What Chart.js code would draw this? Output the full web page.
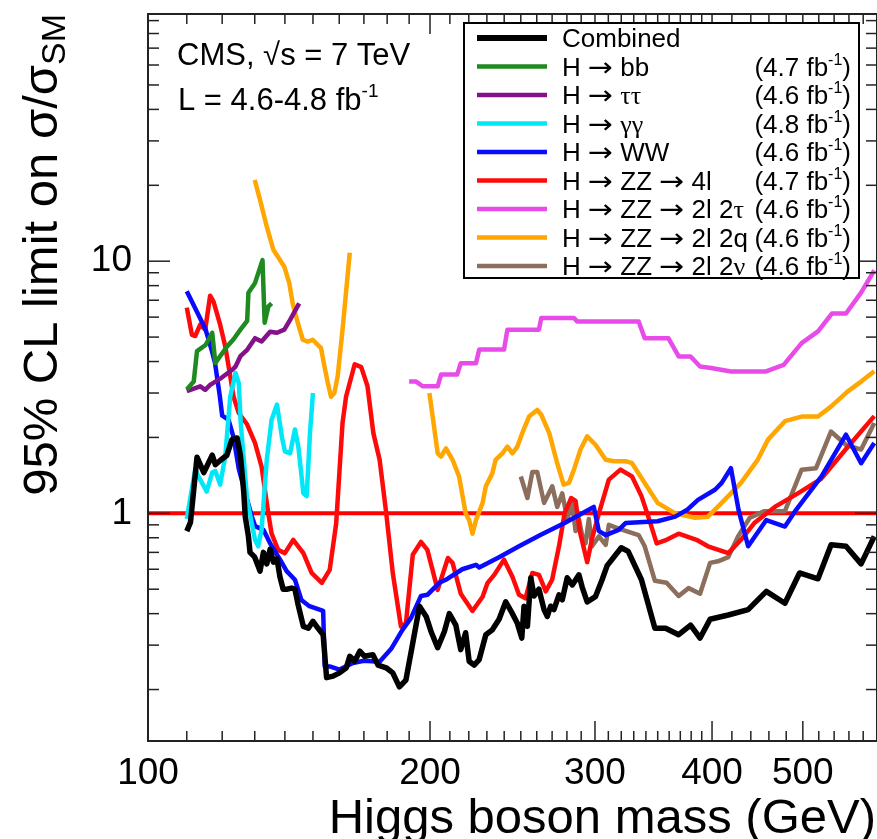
<!DOCTYPE html>
<html>
<head>
<meta charset="utf-8">
<script src="https://cdn.jsdelivr.net/npm/chart.js@4.4.1/dist/chart.umd.min.js"></script>
<style>
  html, body { margin: 0; padding: 0; background: #fff; }
  canvas { display: block; }
</style>
</head>
<body>
<canvas id="limits" width="877" height="839"></canvas>
<script>

/*----------------------- values -----------------------*/

// Higgs mass (GeV) and 95% CL limit on sigma/sigma_SM for every channel

const combinedMass = [110, 111, 112.8, 114.7, 117.1, 118, 119.4, 121.4, 122.9, 124.5, 125.5, 126.5, 127, 128, 128.5,
  130, 131.7, 132.8, 133.9, 135, 136.1, 137.3, 138.3, 139.4, 140.6, 142.3, 143.5, 144.7, 146.5, 148.3, 150, 151.9,
  153.8, 155.1, 157.6, 160.1, 162.8, 164.2, 166.2, 168.3, 170.3, 173.8, 176, 179.6, 182.5, 185.5, 188.5, 191.7,
  194.9, 198.1, 200.5, 203.8, 207.2, 209.7, 213.1, 215.7, 218.3, 220.2, 222.9, 225.7, 229.4, 233.1, 237, 240.9,
  244.9, 247.9, 250.6, 252, 254.1, 256.2, 258.3, 261.4, 264.7, 266.8, 269, 271.2, 274.6, 276.8, 280.2, 283.7,
  288.4, 290.7, 294.3, 300.3, 305.3, 309.1, 320, 325.5, 336.3, 347.6, 356.9, 368.5, 379.5, 388.4, 398.1, 416.3,
  437.1, 457.1, 478.5, 496, 519, 536, 556, 577, 596];
const combinedLimit = [0.85, 0.92, 1.67, 1.45, 1.70, 1.56, 1.62, 1.70, 1.96, 1.99, 1.70, 1.23, 0.97, 0.81, 0.70,
  0.67, 0.59, 0.70, 0.63, 0.72, 0.64, 0.66, 0.56, 0.50, 0.50, 0.505, 0.50, 0.43, 0.356, 0.35, 0.373, 0.35,
  0.33, 0.223, 0.226, 0.233, 0.244, 0.271, 0.259, 0.284, 0.271, 0.275, 0.25, 0.244, 0.233, 0.205, 0.218, 0.306,
  0.428, 0.39, 0.34, 0.293, 0.34, 0.40, 0.36, 0.288, 0.336, 0.259, 0.25, 0.263, 0.33, 0.345, 0.38, 0.446,
  0.40, 0.366, 0.32, 0.428, 0.356, 0.555, 0.47, 0.50, 0.415, 0.39, 0.428, 0.415, 0.475, 0.454, 0.555, 0.52,
  0.57, 0.51, 0.445, 0.467, 0.545, 0.62, 0.73, 0.706, 0.545, 0.35, 0.35, 0.33, 0.36, 0.32, 0.38, 0.395,
  0.415, 0.49, 0.44, 0.58, 0.55, 0.75, 0.74, 0.63, 0.81];

const bbMass  = [110, 111.9, 112.8, 115.2, 117.1, 118, 121.4, 123.4, 125.5, 127.6, 128, 130.1, 132.5, 133.2, 134.4, 135.5];
const bbLimit = [3.1, 3.33, 4.4, 4.65, 5.2, 3.95, 4.58, 4.9, 5.35, 5.8, 7.5, 8.2, 10.1, 5.7, 6.6, 6.8];

const tautauMass  = [110, 113.7, 115.1, 116.5, 119.7, 122.9, 124, 125.5, 127.6, 130.1, 132.2, 135, 137.3, 139.8, 141.8, 145];
const tautauLimit = [3.05, 3.19, 3.09, 3.23, 3.44, 3.7, 3.82, 4.2, 4.45, 4.95, 4.8, 5.25, 5.2, 5.35, 5.85, 6.8];

const gamgamMass  = [110, 112.3, 113.7, 115.5, 117.1, 118, 119.4, 120.9, 122.4, 124, 125, 125.6, 127.6, 130.1, 131.1,
  132.2, 133.9, 135.5, 137.3, 139, 140, 141.8, 143.5, 144.7, 146.5, 147.7, 148.9, 150];
const gamgamLimit = [0.95, 1.49, 1.36, 1.22, 1.45, 1.47, 1.3, 1.68, 2.9, 3.6, 3.28, 2.28, 1.13, 0.785, 0.74,
  0.86, 1.63, 2.35, 2.7, 2.0, 1.76, 1.73, 2.15, 1.84, 1.2, 1.17, 2.08, 3.0];

const wwMass  = [110, 115.2, 117, 117.9, 119.3, 120, 121.9, 123.4, 125, 127.6, 129.1, 130.1, 132.8, 135, 138.3, 140.6,
  143.5, 145.8, 148.7, 153.8, 154.4, 156.3, 160.1, 165.5, 170, 176.7, 181.8, 186.9, 190.9, 195.6, 198.7, 204.6,
  207.9, 216.5, 223.9, 225.7, 237, 248.9, 262.3, 278.4, 299.1, 302.9, 308, 318, 323.4, 349.9, 365.4, 376, 386.4,
  402.9, 409.6, 419, 427, 437.1, 457.1, 478.5, 491.6, 523.5, 556, 577, 596];
const wwLimit = [7.6, 5.37, 4.41, 3.95, 2.92, 2.44, 2.35, 2.0, 1.5, 1.13, 0.97, 0.89, 0.86, 0.76, 0.656, 0.59,
  0.545, 0.453, 0.428, 0.41, 0.247, 0.247, 0.24, 0.255, 0.26, 0.258, 0.29, 0.345, 0.385, 0.47, 0.475, 0.53,
  0.545, 0.60, 0.625, 0.61, 0.67, 0.74, 0.82, 0.915, 1.06, 0.85, 0.82, 0.86, 0.915, 0.93, 0.97, 1.03, 1.13,
  1.24, 1.32, 1.51, 1.03, 0.74, 0.94, 0.886, 1.03, 1.4, 2.05, 1.58, 1.9];

const fourlMass  = [110, 111.4, 112.3, 113.7, 115.1, 116.5, 117.5, 119.4, 120.9, 122.4, 123.4, 125, 127.6, 130.1, 132.2,
  134.4, 135.5, 137.7, 140, 142.9, 146.5, 149.5, 153.3, 156.3, 158.8, 161.3, 162.7, 166.2, 168.9, 171.5, 174,
  176.7, 179.6, 182.5, 186.2, 188.5, 191.7, 195.6, 198.7, 203.8, 209, 211.4, 215.7, 222, 227.6, 230.4, 234.2,
  239.9, 244.9, 248.9, 252.9, 257.2, 261.4, 265.8, 270, 274.6, 278.4, 283, 286, 289, 294.3, 298, 302.9, 310.4,
  319.4, 328.6, 336.3, 342, 349.1, 357.7, 368.5, 385, 396, 416.3, 429.5, 443.8, 466.7, 494, 523, 556, 596];
const fourlLimit = [6.54, 5.1, 5.05, 5.6, 5.35, 7.3, 6.9, 5.6, 4.6, 3.5, 2.9, 2.5, 2.25, 1.9, 1.53,
  1.0, 0.83, 0.716, 0.695, 0.785, 0.695, 0.58, 0.53, 0.597, 0.91, 2.28, 2.9, 3.9, 3.8, 3.2, 2.08,
  1.63, 1.0, 0.58, 0.356, 0.366, 0.685, 0.77, 0.716, 0.497, 0.665, 0.636, 0.48, 0.41, 0.467, 0.53, 0.57,
  0.655, 0.56, 0.475, 0.46, 0.58, 0.57, 0.49, 0.545, 0.74, 1.0, 1.15, 1.12, 0.85, 0.64, 0.8, 1.0, 1.36,
  1.49, 1.4, 1.17, 0.97, 0.76, 0.785, 0.83, 0.785, 0.74, 0.695, 0.785, 0.915, 1.06, 1.2, 1.37, 1.8, 2.43];

const llttMass  = [190, 193.3, 196.4, 203.8, 205.5, 213.8, 215.7, 223.9, 225.7, 239.9, 241.9, 261.4, 262.9, 284.9,
  287.1, 334, 339, 359.3, 368.5, 379.5, 388.4, 399.2, 419, 456, 477, 498.5, 519, 537, 556, 577, 596];
const llttLimit = [3.33, 3.33, 3.19, 3.19, 3.55, 3.55, 3.94, 3.94, 4.46, 4.46, 5.35, 5.35, 5.95, 5.95,
  5.77, 5.77, 4.95, 4.95, 4.19, 4.19, 3.82, 3.77, 3.65, 3.65, 3.88, 4.73, 5.27, 6.2, 6.2, 7.5, 9.2];

// the 2l2q search has a hole between 164 and 200 GeV (null = gap)
const llqqMass  = [130, 131.7, 133.9, 136.1, 139.8, 141.5, 142.7, 144.5, 146.3, 148.1, 149.9, 153, 154.3, 155.6,
  156.8, 158.1, 159.4, 161.3, 164.2, 180, 199.7, 201.3, 203.8, 205.5, 208, 211.4, 214.8, 218.3, 220.2, 222,
  223.9, 227.6, 229.4, 233.1, 235, 238.9, 241.9, 244.9, 247.9, 250.9, 255.1, 260.3, 262.9, 268.1, 273.4,
  277.7, 281.4, 284.9, 289.5, 294.3, 300.4, 308, 314.4, 323.4, 328.6, 339, 349.9, 365.4, 383.6, 396, 409.6,
  429.5, 447.5, 459, 478.5, 498.5, 519, 535.8, 558, 577, 596];
const llqqLimit = [21, 17.5, 13.7, 11.1, 9.5, 8.2, 6.8, 5.7, 4.88, 4.8, 4.88, 4.52, 3.82, 3.28,
  2.9, 3.0, 3.5, 5.35, 10.8, null, 3.0, 2.42, 1.73, 1.68, 1.81, 1.63, 1.4, 1.0, 0.94, 0.83,
  0.94, 1.1, 1.28, 1.44, 1.63, 1.73, 1.84, 1.73, 1.84, 2.08, 2.42, 2.57, 2.46, 2.08, 1.58,
  1.3, 1.32, 1.49, 1.79, 2.02, 1.87, 1.63, 1.61, 1.61, 1.58, 1.32, 1.1, 1.0, 0.96, 0.97, 1.1,
  1.32, 1.63, 1.96, 2.32, 2.42, 2.42, 2.65, 3.04, 3.33, 3.66];

const llnnMass  = [250, 254.1, 257.2, 260.3, 264.7, 270.1, 273.4, 276.8, 280.2, 283.7, 286, 288.4, 291, 293.1,
  295.5, 297.8, 302.9, 308, 310.4, 318, 334, 339, 347.6, 357.7, 368.5, 377.6, 388.4, 398.1, 405.9, 416.3,
  426.4, 438.9, 455.1, 478.5, 498.5, 516.5, 535.8, 555.8, 577, 596];
const llnnLimit = [1.4, 1.15, 1.46, 1.46, 1.1, 1.28, 1.06, 1.2, 0.95, 1.1, 0.85, 0.95, 0.8, 0.76,
  0.95, 0.74, 0.81, 0.75, 0.9, 0.87, 0.82, 0.74, 0.54, 0.53, 0.47, 0.505, 0.48, 0.636, 0.645, 0.67,
  0.81, 0.96, 1.02, 1.02, 1.49, 1.51, 2.11, 1.87, 1.79, 2.28];

const unityMass  = [100, 600];
const unityLimit = [1, 1];

const channelNames = ["Combined", "H \u2192 bb", "H \u2192 \u03c4\u03c4", "H \u2192 \u03b3\u03b3", "H \u2192 WW",
  "H \u2192 ZZ \u2192 4l", "H \u2192 ZZ \u2192 2l 2\u03c4", "H \u2192 ZZ \u2192 2l 2q", "H \u2192 ZZ \u2192 2l 2\u03bd"];
const channelLumi = ["", "4.7", "4.6", "4.8", "4.6", "4.7", "4.6", "4.6", "4.6"];
const channelColors = ["#000000", "#1f8a1f", "#84118a", "#00e8f8", "#0a0aff", "#ff0a0a", "#e84ce8", "#ffa600", "#8c6e5c"];

const xTickLabels = [100, 200, 300, 400, 500];
const xMinorTicks = [110, 120, 130, 140, 150, 160, 170, 180, 190, 210, 220, 230, 240, 250, 260, 270, 280, 290,
  310, 320, 330, 340, 350, 360, 370, 380, 390, 420, 440, 460, 480, 520, 540, 560, 580];
const yTickLabels = [1, 10];
const yMinorTicks = [0.2, 0.3, 0.4, 0.5, 0.6, 0.7, 0.8, 0.9, 2, 3, 4, 5, 6, 7, 8, 9, 20, 30, 40, 50, 60, 70, 80, 90];


/*----------------------- helpers -----------------------*/

const FONT = '"Liberation Sans", Arial, Helvetica, sans-serif';
const ARROW_FONT = '"DejaVu Sans", sans-serif';
const GREEK_FONT = '"Liberation Serif", "DejaVu Serif", serif';

function toPoints(mass, limit) {
  return mass.map((m, i) => ({ x: m, y: limit[i] }));
}

function line(ctx, x1, y1, x2, y2) {
  ctx.beginPath();
  ctx.moveTo(x1, y1);
  ctx.lineTo(x2, y2);
  ctx.stroke();
}

// arrows and greek letters look like the ROOT symbol font
function fontFor(ch, size) {
  if (ch === "\u2192") return size + "px " + ARROW_FONT;
  if ("\u03c4\u03b3\u03bd".includes(ch)) return size + "px " + GREEK_FONT;
  return size + "px " + FONT;
}

function drawRich(ctx, text, x, y, size) {
  ctx.textAlign = "left";
  for (const ch of text) {
    ctx.font = fontFor(ch, size);
    const w = ctx.measureText(ch).width;
    if (ch === "\u2192") {
      // the ROOT arrow is a bit longer
      ctx.save();
      ctx.translate(x, y);
      ctx.scale(1.15, 1);
      ctx.fillText(ch, 0, 0);
      ctx.restore();
      x += w * 1.15;
    } else {
      ctx.fillText(ch, x, y);
      x += w;
    }
  }
}

// "(4.7 fb^-1)" drawn right aligned, with a small raised -1
function drawLumi(ctx, text, right, y, size) {
  const big = size + "px " + FONT;
  const small = Math.round(size * 0.6) + "px " + FONT;
  ctx.font = big;
  const w1 = ctx.measureText(text).width;
  const w3 = ctx.measureText(")").width;
  ctx.font = small;
  const w2 = ctx.measureText("-1").width;
  let x = right - (w1 + w2 + w3);
  ctx.textAlign = "left";
  ctx.font = big;
  ctx.fillText(text, x, y);
  ctx.font = small;
  ctx.fillText("-1", x + w1, y - size * 0.42);
  ctx.font = big;
  ctx.fillText(")", x + w1 + w2, y);
}


/*----------------------- frame, ticks, legend and labels -----------------------*/

const decorations = {
  id: "decorations",
  afterDatasetsDraw(chart) {
    const ctx = chart.ctx;
    const a = chart.chartArea;
    const xs = chart.scales.x;
    const ys = chart.scales.y;

    ctx.save();
    ctx.strokeStyle = "#222";
    ctx.lineWidth = 1.5;

    xMinorTicks.forEach(v => {
      const px = xs.getPixelForValue(v);
      line(ctx, px, a.bottom, px, a.bottom - 10);
      line(ctx, px, a.top, px, a.top + 10);
    });
    xTickLabels.forEach(v => {
      const px = xs.getPixelForValue(v);
      line(ctx, px, a.bottom, px, a.bottom - 20);
      line(ctx, px, a.top, px, a.top + 20);
    });
    yMinorTicks.forEach(v => {
      const py = ys.getPixelForValue(v);
      line(ctx, a.left, py, a.left + 11, py);
      line(ctx, a.right, py, a.right - 11, py);
    });
    yTickLabels.forEach(v => {
      const py = ys.getPixelForValue(v);
      line(ctx, a.left, py, a.left + 22, py);
      line(ctx, a.right, py, a.right - 22, py);
    });

    ctx.lineWidth = 2;
    ctx.strokeRect(a.left, a.top, a.right - a.left, a.bottom - a.top);

    // legend box
    ctx.fillStyle = "#fff";
    ctx.fillRect(464, 23, 395, 255);
    ctx.strokeStyle = "#000";
    ctx.strokeRect(464, 23, 395, 255);

    ctx.textBaseline = "alphabetic";
    channelNames.forEach((name, i) => {
      const y = 38 + i * 28.5;
      ctx.strokeStyle = channelColors[i];
      ctx.lineWidth = i === 0 ? 6 : 4.5;
      line(ctx, 477, y, 547, y);
      ctx.fillStyle = "#000";
      drawRich(ctx, name, 562, y + 9, 26);
      if (channelLumi[i]) drawLumi(ctx, "(" + channelLumi[i] + " fb", 851, y + 9, 26);
    });

    // experiment label
    ctx.fillStyle = "#000";
    ctx.textAlign = "left";
    ctx.font = "31px " + FONT;
    ctx.fillText("CMS, \u221as = 7 TeV", 177, 65);
    ctx.fillText("L = 4.6-4.8 fb", 178, 110);
    const wl = ctx.measureText("L = 4.6-4.8 fb").width;
    ctx.font = "19px " + FONT;
    ctx.fillText("-1", 178 + wl, 97);

    // axis titles
    ctx.font = "49px " + FONT;
    ctx.textAlign = "right";
    ctx.fillText("Higgs boson mass (GeV)", 876, 833);

    ctx.translate(57, 14);
    ctx.rotate(-Math.PI / 2);
    ctx.font = "34px " + FONT;
    const wsub = ctx.measureText("SM").width;
    ctx.fillText("SM", 0, 8);
    ctx.font = "49px " + FONT;
    ctx.fillText("95% CL limit on \u03c3/\u03c3", -wsub, 0);
    ctx.restore();
  }
};


/*----------------------- the chart -----------------------*/

const series = [
  [combinedMass, combinedLimit, 5.5],
  [bbMass, bbLimit, 4.5],
  [tautauMass, tautauLimit, 4.5],
  [gamgamMass, gamgamLimit, 4.5],
  [wwMass, wwLimit, 4.5],
  [fourlMass, fourlLimit, 4.5],
  [llttMass, llttLimit, 4.5],
  [llqqMass, llqqLimit, 4.5],
  [llnnMass, llnnLimit, 4.5],
];

const datasets = series.map((s, i) => ({
  label: channelNames[i],
  data: toPoints(s[0], s[1]),
  borderColor: channelColors[i],
  borderWidth: s[2],
  pointRadius: 0,
  tension: 0,
  borderJoinStyle: "round",
  fill: false,
}));

datasets.push({
  label: "SM",
  data: toPoints(unityMass, unityLimit),
  borderColor: "#ff0000",
  borderWidth: 4,
  pointRadius: 0,
  fill: false,
});

new Chart(document.getElementById("limits").getContext("2d"), {
  type: "line",
  data: { datasets },
  plugins: [decorations],
  options: {
    responsive: false,
    animation: false,
    devicePixelRatio: 1,
    layout: { padding: { top: 14, left: 0, right: 0, bottom: 0 } },
    plugins: { legend: { display: false }, tooltip: { enabled: false } },
    scales: {
      x: {
        type: "logarithmic",
        min: 100,
        max: 600,
        grid: { display: false },
        border: { display: false },
        afterBuildTicks: s => { s.ticks = xTickLabels.map(v => ({ value: v })); },
        afterFit: s => { s.height = 98; s.paddingLeft = 0; s.paddingRight = 0; },
        ticks: {
          autoSkip: false,
          maxRotation: 0,
          padding: 3,
          color: "#000",
          font: { family: FONT, size: 37 },
          callback: v => String(v),
        },
      },
      y: {
        type: "logarithmic",
        min: 0.125,
        max: 95.6,
        grid: { display: false },
        border: { display: false },
        afterBuildTicks: s => { s.ticks = yTickLabels.map(v => ({ value: v })); },
        afterFit: s => { s.width = 148; s.paddingTop = 0; s.paddingBottom = 0; },
        ticks: {
          padding: 8,
          color: "#000",
          font: { family: FONT, size: 37 },
          callback: v => String(v),
        },
      },
    },
  },
});
</script>
</body>
</html>
